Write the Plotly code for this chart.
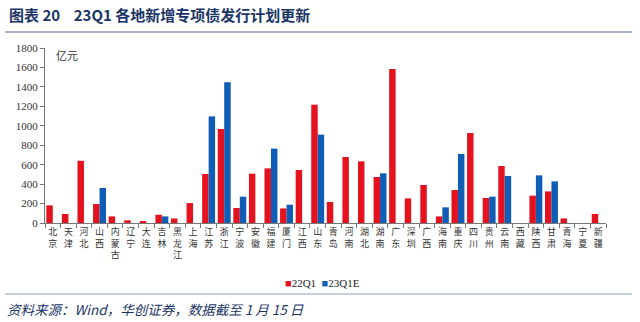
import plotly.graph_objects as go

regions = ["北京", "天津", "河北", "山西", "内蒙古", "辽宁", "大连", "吉林", "黑龙江", "上海",
           "江苏", "浙江", "宁波", "安徽", "福建", "厦门", "江西", "山东", "青岛", "河南",
           "湖北", "湖南", "广东", "深圳", "广西", "海南", "重庆", "四川", "贵州", "云南",
           "西藏", "陕西", "甘肃", "青海", "宁夏", "新疆"]
q1_22 = [181, 93, 640, 195, 68, 28, 13, 85, 47, 205,
         504, 967, 154, 507, 562, 150, 545, 1217, 216, 679,
         634, 473, 1585, 253, 391, 68, 339, 926, 257, 586,
         None, 281, 325, 47, None, 93]
q1_23e = [None, None, None, 360, None, None, None, 68, None, None,
          1097, 1447, 271, None, 765, 188, None, 909, None, None,
          None, 511, None, None, None, 161, 710, None, 271, 484,
          None, 490, 428, None, None, None]
y_ticks = [0, 200, 400, 600, 800, 1000, 1200, 1400, 1600, 1800]
series_names = ["22Q1", "23Q1E"]
series_colors = ["#E3121E", "#0F5DB5"]

labels = ["<br>".join(list(r)) for r in regions]

fig = go.Figure()
for name, vals, col in zip(series_names, [q1_22, q1_23e], series_colors):
    fig.add_trace(go.Bar(x=labels, y=vals, name=name, marker=dict(color=col, line=dict(width=0))))

navy = "#1B3566"
fig.update_layout(
    width=640, height=322,
    margin=dict(l=45, r=34, t=48, b=99),
    paper_bgcolor="white", plot_bgcolor="white",
    barmode="group", bargap=0.17, bargroupgap=0,
    showlegend=False,
    xaxis=dict(type="category", tickson="boundaries", ticks="outside", ticklen=4,
               tickcolor="#777", showline=True, linecolor="#777", linewidth=1,
               tickfont=dict(family="Noto Sans CJK SC", size=9, color="#333"),
               tickangle=0, showgrid=False),
    yaxis=dict(range=[0, 1800], tickvals=y_ticks, ticks="outside", ticklen=4,
               tickcolor="#777", showline=True, linecolor="#777", linewidth=1,
               showgrid=False, zeroline=False,
               tickfont=dict(family="Liberation Serif", size=11, color="#333")),
    font=dict(family="Noto Sans CJK SC"),
)

def px_x(px):
    return (px - 45) / 561

def px_y(py):
    return (223 - py) / 175

# legend drawn as text with coloured squares
legend_text = "  ".join(
    f"<span style='color:{c}'>■</span>{n}" for n, c in zip(series_names, series_colors))
fig.add_annotation(text=legend_text, xref="paper", yref="paper", x=px_x(322), y=px_y(283),
                   xanchor="center", yanchor="middle", showarrow=False,
                   font=dict(family="Liberation Serif", size=11, color="#222"))

fig.add_annotation(text="<b>图表 20&nbsp;&nbsp;&nbsp;&nbsp;23Q1 各地新增专项债发行计划更新</b>", xref="paper", yref="paper",
                   x=px_x(7), y=px_y(15), xanchor="left", yanchor="middle",
                   showarrow=False, font=dict(family="Noto Sans CJK SC", size=15, color=navy))
fig.add_annotation(text="亿元", xref="paper", yref="paper", x=px_x(66.5), y=px_y(55),
                   xanchor="center", yanchor="middle", showarrow=False,
                   font=dict(family="Noto Sans CJK SC", size=11, color="#333"))
fig.add_annotation(text="<i>资料来源：Wind，华创证券，数据截至 1 月 15 日</i>", xref="paper", yref="paper",
                   x=px_x(5), y=px_y(309), xanchor="left", yanchor="middle",
                   showarrow=False, font=dict(family="Noto Sans CJK SC", size=13.5, color=navy))

fig.add_shape(type="line", xref="paper", yref="paper", x0=px_x(5), x1=px_x(632),
              y0=px_y(32), y1=px_y(32), line=dict(color="#8C9DB5", width=1.5))
fig.add_shape(type="line", xref="paper", yref="paper", x0=px_x(5), x1=px_x(632),
              y0=px_y(294), y1=px_y(294), line=dict(color="#8C9DB5", width=1))

fig.write_html("out.html")
